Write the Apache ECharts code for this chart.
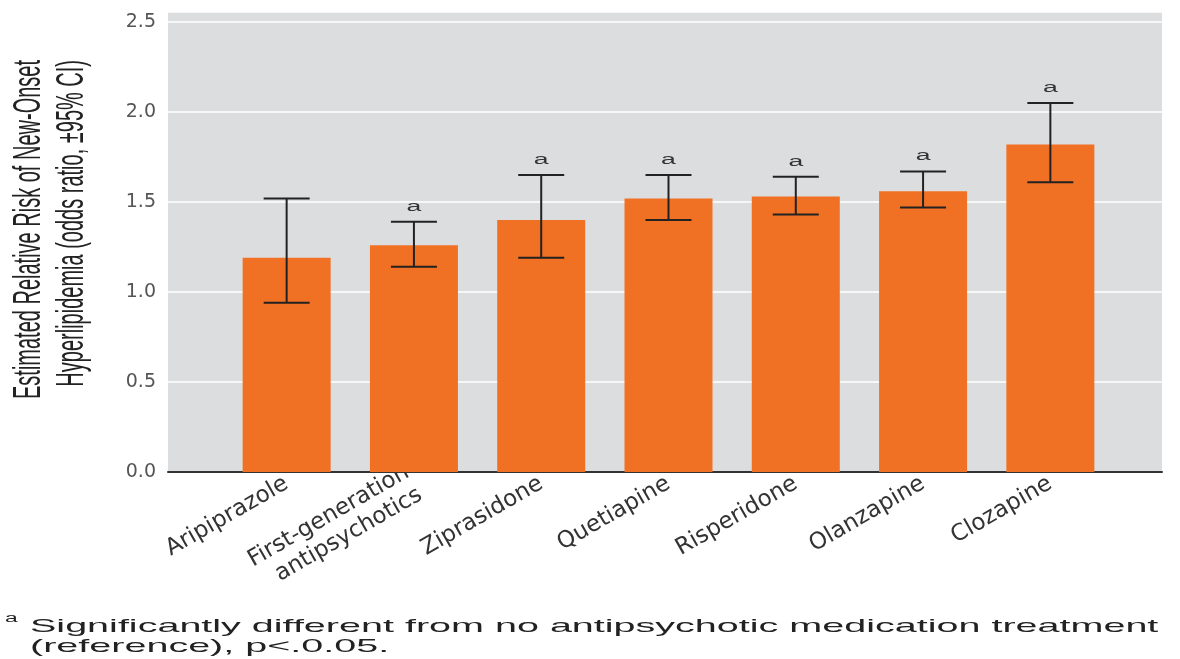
<!DOCTYPE html>
<html lang="en">
<head>
  <meta charset="UTF-8">
  <title>Antipsychotics and new-onset hyperlipidemia</title>
  <script src="https://cdn.jsdelivr.net/npm/echarts@6/dist/echarts.min.js"></script>
  <style>
    body { margin: 0; background: #fff; }
  </style>
</head>
<body>
  <div id="main" style="width: 1180px;height:659px;"></div>

  <script type="text/javascript">
    // values
    const categories = ['Aripiprazole', 'First-generation\nantipsychotics', 'Ziprasidone',
      'Quetiapine', 'Risperidone', 'Olanzapine', 'Clozapine'];
    const oddsRatio = [1.19, 1.26, 1.40, 1.52, 1.53, 1.56, 1.82];
    const ciLower = [0.94, 1.14, 1.19, 1.40, 1.43, 1.47, 1.61];
    const ciUpper = [1.52, 1.39, 1.65, 1.65, 1.64, 1.67, 2.05];
    const significance = ['', 'a', 'a', 'a', 'a', 'a', 'a'];
    const yMin = 0;
    const yTop = 2.5;
    const yStep = 0.5;
    // plot background reaches a little above the 2.5 line
    const yMax = yTop + 10 / 180;

    const errorData = categories.map((c, i) => [i, ciLower[i], ciUpper[i]]);

    let myChart = echarts.init(document.getElementById('main'));

    let options = {
      backgroundColor: '#fff',
      animation: false,
      grid: [
        { left: 168, right: 18, top: 12, bottom: 187, show: true,
          backgroundColor: '#dcdddf', borderWidth: 0 },
        { left: 223, right: 66, top: 12, bottom: 187 }
      ],
      xAxis: [
        {
          gridIndex: 0, type: 'value', min: 0, max: 1,
          axisLine: { show: true, lineStyle: { color: '#333', width: 2 } },
          axisTick: { show: false }, axisLabel: { show: false }, splitLine: { show: false }
        },
        {
          gridIndex: 1, type: 'category', data: categories,
          axisLine: { show: false }, axisTick: { show: false },
          axisLabel: {
            rotate: 30, margin: 10, color: '#333',
            fontFamily: 'DejaVu Sans', fontSize: 23, lineHeight: 26
          }
        }
      ],
      yAxis: [
        {
          gridIndex: 0, type: 'value', min: yMin, max: yMax, interval: yStep,
          axisLine: { show: false }, axisTick: { show: false },
          axisLabel: {
            showMaxLabel: false, margin: 12, color: '#555',
            fontFamily: 'DejaVu Sans', fontSize: 19,
            formatter: v => v.toFixed(1)
          },
          splitLine: { lineStyle: { color: '#fff', width: 1.5 } }
        },
        {
          gridIndex: 1, type: 'value', min: yMin, max: yMax, interval: yStep, show: false
        }
      ],
      series: [
        {
          type: 'bar',
          xAxisIndex: 1, yAxisIndex: 1,
          data: oddsRatio,
          barWidth: 88,
          itemStyle: { color: '#f07123' }
        },
        {
          type: 'custom',
          xAxisIndex: 1, yAxisIndex: 1,
          data: errorData,
          z: 5,
          renderItem: function (params, api) {
            const i = api.value(0);
            const hi = api.coord([i, api.value(2)]);
            const lo = api.coord([i, api.value(1)]);
            const half = 23;
            const st = { stroke: '#222', lineWidth: 2 };
            const children = [
              { type: 'line', shape: { x1: hi[0], y1: hi[1], x2: lo[0], y2: lo[1] }, style: st },
              { type: 'line', shape: { x1: hi[0] - half, y1: hi[1], x2: hi[0] + half, y2: hi[1] }, style: st },
              { type: 'line', shape: { x1: lo[0] - half, y1: lo[1], x2: lo[0] + half, y2: lo[1] }, style: st }
            ];
            if (significance[params.dataIndex]) {
              children.push({
                type: 'text', x: hi[0], y: hi[1] - 15, scaleX: 1.9,
                style: {
                  text: significance[params.dataIndex], fill: '#333',
                  fontFamily: 'Liberation Sans', fontSize: 14,
                  align: 'center', verticalAlign: 'middle'
                }
              });
            }
            return { type: 'group', children: children };
          }
        }
      ],
      graphic: [
        {
          // y axis title, condensed look of the original
          type: 'text', x: 51, y: 60, rotation: Math.PI / 2, scaleY: 1.94,
          style: {
            text: 'Estimated Relative Risk of New-Onset\nHyperlipidemia (odds ratio, \u00b195% CI)',
            fill: '#222', fontFamily: 'Liberation Sans', fontSize: 20, lineHeight: 22,
            align: 'right', verticalAlign: 'middle'
          }
        },
        {
          type: 'text', x: 5, y: 613, scaleX: 1.9,
          style: { text: 'a', fill: '#222', fontFamily: 'Liberation Sans', fontSize: 12 }
        },
        {
          type: 'text', x: 30, y: 617, scaleX: 2.08,
          style: {
            text: 'Significantly different from no antipsychotic medication treatment\n(reference), p<.0.05.',
            fill: '#222', fontFamily: 'Liberation Sans', fontSize: 19, lineHeight: 20
          }
        }
      ]
    };

    myChart.setOption(options);
  </script>
</body>
</html>
